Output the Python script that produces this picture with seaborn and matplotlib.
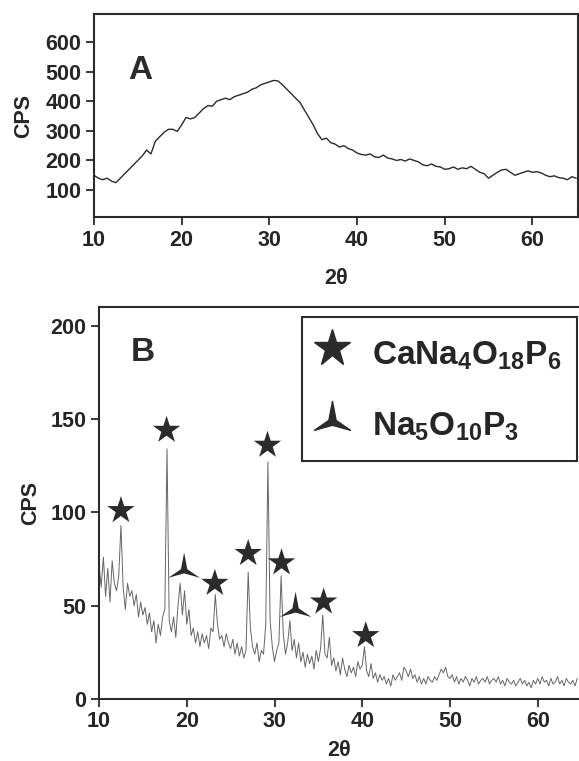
import numpy as np
import seaborn as sns
import matplotlib.pyplot as plt
from matplotlib.lines import Line2D

# ---------------- data ----------------
# panel A: amorphous sample, every 0.5 deg from 10 to 65
a_theta = np.arange(10, 65.01, 0.5)
a_cps = [150, 140, 135, 140, 130, 125, 140, 155, 170, 185,
         200, 215, 235, 222, 265, 280, 295, 305, 305, 298,
         320, 345, 340, 345, 360, 375, 385, 383, 400, 405,
         410, 405, 415, 420, 425, 430, 440, 445, 455, 460,
         465, 470, 468, 455, 440, 425, 410, 395, 370, 345,
         320, 290, 270, 275, 260, 255, 245, 250, 240, 235,
         225, 220, 218, 222, 212, 210, 218, 208, 205, 200,
         203, 198, 205, 200, 195, 185, 182, 188, 180, 178,
         170, 172, 178, 170, 175, 172, 180, 170, 160, 155,
         140, 150, 160, 168, 170, 160, 150, 155, 160, 165,
         160, 162, 158, 150, 145, 148, 142, 140, 135, 145,
         140]

# panel B: crystallised sample, every 0.25 deg from 10 to 64.5
b_theta = np.arange(10, 64.51, 0.25)
b_cps = [72, 60, 76, 55,  70, 52, 74, 62,  58, 66, 93, 60,
         48, 62, 55, 58,  50, 56, 44, 52,  45, 49, 40, 46,
         36, 42, 30, 40,  34, 44, 48, 134, 42, 36, 44, 33,
         50, 62, 45, 58,  40, 48, 34, 38,  30, 36, 28, 35,
         30, 34, 27, 38,  36, 56, 40, 32,  34, 28, 35, 30,
         27, 32, 24, 30,  23, 28, 22, 26,  68, 38, 28, 24,
         30, 20, 26, 24,  40, 127, 42, 28, 20, 26, 30, 66,
         35, 24, 30, 42,  26, 32, 22, 30,  20, 25, 17, 24,
         19, 23, 16, 26,  20, 27, 45, 24,  22, 33, 18, 22,
         15, 20, 13, 22,  16, 12, 18, 14,  17, 12, 20, 16,
         18, 28, 15, 12,  19, 11, 14, 9,   13, 10, 12, 8,
         11, 7, 13, 10,   12, 14, 10, 17,  15, 12, 16, 11,
         13, 9, 12, 8,    11, 8, 12, 10,   9, 12, 10, 13,
         16, 14, 17, 12,  11, 13, 9, 12,   8, 11, 9, 12,
         10, 7, 11, 9,    12, 8, 10, 11,   9, 12, 8, 10,
         11, 9, 12, 8,    10, 7, 11, 9,    8, 10, 7, 9,
         11, 8, 10, 7,    9, 6, 10, 8,     11, 8, 12, 9,
         10, 7, 11, 8,    9, 12, 8, 10,    7, 11, 9, 8,
         10, 7, 11]

# phase markers
star_x = [12.5, 17.7, 23.2, 27.0, 29.2, 30.8, 35.6, 40.4]
star_y = [101, 144, 62, 78, 136, 73, 52, 34]
tri_x = [19.7, 32.4]
tri_y = [70, 49]

phase_labels = [r"$\mathbf{CaNa_4O_{18}P_6}$", r"$\mathbf{Na_5O_{10}P_3}$"]

# ---------------- style ----------------
sns.set_style("ticks")
plt.rcParams["font.family"] = ["Liberation Sans", "DejaVu Sans"]
plt.rcParams["font.weight"] = "bold"
plt.rcParams["mathtext.fontset"] = "custom"
plt.rcParams["mathtext.bf"] = "Liberation Sans:bold"
plt.rcParams["mathtext.rm"] = "Liberation Sans:bold"

ink = "#2b2b2b"
# three-pointed marker with concave sides
tri_marker = [(0, 1), (-0.2, -0.05), (-1, -0.6), (0, -0.32), (1, -0.6), (0.2, -0.05), (0, 1)]

fig = plt.figure(figsize=(5.79, 7.61), dpi=100)
axA = fig.add_axes([0.1623, 0.7148, 0.836, 0.2668])
axB = fig.add_axes([0.171, 0.0815, 0.829, 0.515])

# ---- panel A ----
sns.lineplot(x=a_theta, y=a_cps, ax=axA, color=ink, lw=1.0)
axA.set_xlim(10, 65.2)
axA.set_ylim(9, 694)
axA.set_xticks([10, 20, 30, 40, 50, 60])
axA.set_yticks([100, 200, 300, 400, 500, 600])
axA.text(0.095, 0.72, "A", transform=axA.transAxes, fontsize=24,
         fontweight="bold", color=ink, ha="center", va="center")

# ---- panel B ----
sns.lineplot(x=b_theta, y=b_cps, ax=axB, color="#666666", lw=0.7)
sns.scatterplot(x=star_x, y=star_y, ax=axB, marker="*", s=430,
                color=ink, edgecolor="none", zorder=3)
sns.scatterplot(x=tri_x, y=tri_y, ax=axB, marker=tri_marker, s=520,
                color=ink, edgecolor="none", zorder=3)
axB.set_xlim(10, 64.7)
axB.set_ylim(0, 210)
axB.set_xticks([10, 20, 30, 40, 50, 60])
axB.set_yticks([0, 50, 100, 150, 200])
axB.spines["right"].set_visible(False)
axB.text(0.092, 0.883, "B", transform=axB.transAxes, fontsize=24,
         fontweight="bold", color=ink, ha="center", va="center")

handles = [Line2D([], [], ls="none", marker="*", ms=28, color=ink),
           Line2D([], [], ls="none", marker=tri_marker, ms=26, color=ink)]
leg = axB.legend(handles, phase_labels, loc="upper left",
                 bbox_to_anchor=(0.5216, 0.5834), bbox_transform=fig.transFigure,
                 fontsize=24, frameon=True, fancybox=False, framealpha=1,
                 labelspacing=0.85, handlelength=0.9, handleheight=1.6,
                 handletextpad=0.75, borderpad=0.45, borderaxespad=0)
leg.get_frame().set_edgecolor(ink)
leg.get_frame().set_linewidth(1.5)

for ax in (axA, axB):
    for s in ax.spines.values():
        s.set_color(ink)
        s.set_linewidth(1.5)
    ax.tick_params(direction="out", length=6, width=1.3, color=ink,
                   labelsize=15.5, pad=3)
    for lab in ax.get_xticklabels() + ax.get_yticklabels():
        lab.set_fontweight("bold")
    ax.set_xlabel("2θ", fontsize=15.5, fontweight="bold")
    ax.set_ylabel("CPS", fontsize=15.5, fontweight="bold")

axA.xaxis.set_label_coords(0.5, -0.25)
axA.yaxis.set_label_coords(-0.124, 0.5)
axB.xaxis.set_label_coords(0.5, -0.104)
axB.yaxis.set_label_coords(-0.121, 0.5)

fig.savefig("out.png", dpi=100)
